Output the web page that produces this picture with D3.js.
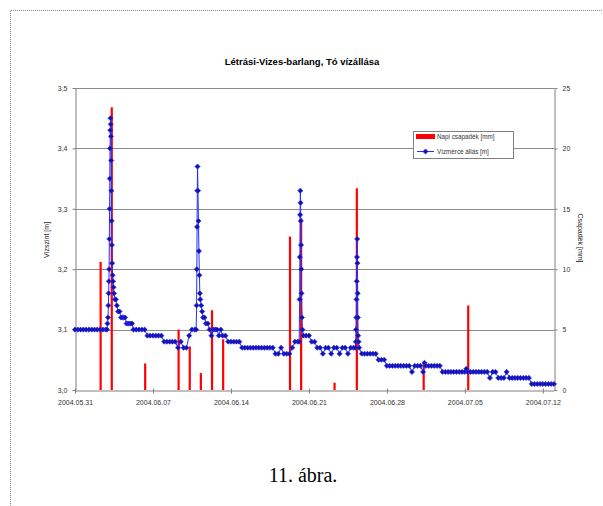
<!DOCTYPE html>
<html>
<head>
<meta charset="utf-8">
<script src="https://cdn.jsdelivr.net/npm/d3@7"></script>
<style>
  body { margin: 0; background: #fff; }
  svg { display: block; font-family: "Liberation Sans", Arial, sans-serif; }
</style>
</head>
<body>
<svg id="chart" width="603" height="506"></svg>
<script>
// Chart data
var chartTitle = "Létrási-Vizes-barlang, Tó vízállása";
var caption = "11. ábra.";
var leftTitle = "Vízszint [m]";
var rightTitle = "Csapadék [mm]";
var rainLabel = "Napi csapadék [mm]";
var levelLabel = "Vízmérce állás [m]";

// daily rain, measured at 07:00
var rainDates = ["2004-06-02", "2004-06-03", "2004-06-06", "2004-06-09", "2004-06-10", "2004-06-11",
                 "2004-06-12", "2004-06-13", "2004-06-19", "2004-06-20", "2004-06-23", "2004-06-25",
                 "2004-07-01", "2004-07-05"];
var rainMm = [10.6, 23.4, 2.2, 5.0, 3.6, 1.4, 6.6, 4.2, 12.7, 14.2, 0.6, 16.7, 2.3, 7.0];

// water level readings: [hours since 2004-05-31 00:00, level in m]
var levelStart = "2004-05-31T00:00";
var levelReadings = [
  [0,3.10],[6,3.10],[12,3.10],[18,3.10],[24,3.10],[30,3.10],[36,3.10],[42,3.10],[48,3.10],[54,3.10],[60,3.10],[66,3.10],
  [69,3.10],[70,3.11],[71,3.12],[72,3.14],[72.5,3.16],[73,3.18],[73.5,3.20],[74,3.25],[74.5,3.30],[75,3.35],[75.5,3.40],
  [76,3.43],[76.5,3.45],[77,3.44],[77.5,3.42],[78,3.38],[78.5,3.33],[79,3.28],[79.5,3.24],[80,3.21],[81,3.19],[82,3.18],
  [83,3.17],[84,3.16],[86,3.15],[88,3.15],[90,3.14],[93,3.13],[96,3.13],
  [99,3.12],[102,3.12],[105,3.12],[108,3.12],[111,3.11],[114,3.11],[117,3.11],[120,3.11],[123,3.11],
  [126,3.10],[132,3.10],[138,3.10],[144,3.10],[150,3.10],[156,3.09],[162,3.09],[168,3.09],[174,3.09],[180,3.09],
  [186,3.09],[192,3.08],[198,3.08],[204,3.08],[210,3.08],[216,3.08],[222,3.07],[228,3.08],[234,3.07],[240,3.07],
  [246,3.09],[252,3.10],[258,3.10],
  [261,3.10],[262,3.14],[262.5,3.20],[263,3.27],[263.5,3.33],[264,3.37],[265,3.33],[266,3.28],[267,3.23],[268,3.19],
  [269,3.16],[270,3.15],[272,3.14],[274,3.13],[276,3.12],[279,3.12],[282,3.11],[286,3.11],[290,3.10],[294,3.09],
  [298,3.10],[302,3.10],[306,3.10],[310,3.09],[314,3.10],[318,3.09],[324,3.09],[330,3.08],[336,3.08],[342,3.08],
  [348,3.08],[354,3.08],[360,3.07],[366,3.07],[372,3.07],[378,3.07],[384,3.07],[390,3.07],[396,3.07],[402,3.07],
  [408,3.07],[414,3.07],[420,3.07],[426,3.07],[432,3.06],[438,3.06],[444,3.07],[450,3.06],[456,3.06],[462,3.06],
  [468,3.07],[474,3.08],[480,3.08],
  [483,3.08],[484,3.15],[484.5,3.22],[485,3.29],[485.5,3.33],[486,3.31],[486.5,3.28],[487,3.24],[487.5,3.20],
  [488,3.16],[489,3.12],[490,3.10],[492,3.09],[498,3.09],[504,3.09],[510,3.08],[516,3.08],[522,3.07],[528,3.07],
  [534,3.06],[540,3.07],[546,3.07],[552,3.06],[558,3.07],[564,3.07],[570,3.06],[576,3.07],[582,3.07],[588,3.06],
  [594,3.07],[600,3.07],
  [604,3.07],[605,3.08],[605.5,3.10],[606,3.12],[606.5,3.15],[607,3.18],[607.5,3.22],[608,3.25],[608.5,3.21],
  [609,3.16],[609.5,3.12],[610,3.09],[611,3.08],[612,3.07],[618,3.06],[624,3.06],[630,3.06],[636,3.06],[642,3.06],
  [648,3.06],[654,3.05],[660,3.05],[666,3.05],[672,3.04],[678,3.04],[684,3.04],[690,3.04],[696,3.04],[702,3.04],
  [708,3.04],[714,3.04],[720,3.04],[726,3.03],[732,3.04],[738,3.04],[744,3.04],[750,3.03],[753,3.045],[756,3.04],
  [762,3.04],[768,3.04],[774,3.04],[780,3.04],[786,3.04],[792,3.03],[798,3.03],[804,3.03],[810,3.03],[816,3.03],
  [822,3.03],[828,3.03],[834,3.03],[840,3.03],[843,3.035],[846,3.03],[852,3.03],[858,3.03],[864,3.03],[870,3.03],
  [876,3.03],[882,3.03],[888,3.03],[894,3.02],[900,3.03],[906,3.03],[912,3.02],[918,3.02],[924,3.02],[930,3.03],
  [936,3.02],[942,3.02],[948,3.02],[954,3.02],[960,3.02],[966,3.02],[972,3.02],[978,3.02],[984,3.01],[990,3.01],
  [996,3.01],[1002,3.01],[1008,3.01],[1014,3.01],[1020,3.01],[1026,3.01],[1032,3.01]
];

var xStart = "2004-05-31", xEnd = "2004-07-13";
var xTickDates = ["2004-05-31", "2004-06-07", "2004-06-14", "2004-06-21", "2004-06-28", "2004-07-05", "2004-07-12"];
var leftTicks = [3.0, 3.1, 3.2, 3.3, 3.4, 3.5];
var rightTicks = [0, 5, 10, 15, 20, 25];

// Layout
var plot = {left: 75, right: 554, top: 88, bottom: 390};
var parseDay = d3.timeParse("%Y-%m-%d");
var parseStamp = d3.timeParse("%Y-%m-%dT%H:%M");
var t0 = parseStamp(levelStart);

var svg = d3.select("#chart");
svg.append("rect").attr("width", 603).attr("height", 506).attr("fill", "#fff");

// dotted page frame
svg.append("path")
    .attr("d", "M10.5,506V10.5H603")
    .attr("fill", "none")
    .attr("stroke", "#8a8a8a")
    .attr("stroke-dasharray", "1,1");

var x = d3.scaleTime().domain([parseDay(xStart), parseDay(xEnd)]).range([plot.left, plot.right]);
var yL = d3.scaleLinear().domain([3.0, 3.5]).range([plot.bottom, plot.top]);
var yR = d3.scaleLinear().domain([0, 25]).range([plot.bottom, plot.top]);

var huLocale = d3.formatLocale({decimal: ",", thousands: " ", grouping: [3], currency: ["", ""]});
var fmtLeft = huLocale.format(".1f");

// grid lines
svg.append("g").selectAll("line")
    .data(leftTicks.slice(1))
    .enter().append("line")
    .attr("x1", plot.left).attr("x2", plot.right)
    .attr("y1", function (d) { return Math.round(yL(d)) + 0.5; })
    .attr("y2", function (d) { return Math.round(yL(d)) + 0.5; })
    .attr("stroke", "#8c8c8c");

// rain bars (drawn under the level line)
var hour7 = 7 * 3600 * 1000;
svg.append("g").selectAll("rect")
    .data(rainMm)
    .enter().append("rect")
    .attr("x", function (d, i) { return x(new Date(parseDay(rainDates[i]).getTime() + hour7)) - 1; })
    .attr("y", function (d) { return yR(d); })
    .attr("width", 2.2)
    .attr("height", function (d) { return plot.bottom - yR(d); })
    .attr("fill", "#ff0000");

// axes
function styleAxis(g) {
    g.selectAll("path.domain").attr("stroke", "#808080");
    g.selectAll(".tick line").attr("stroke", "#808080");
    g.selectAll(".tick text").attr("fill", "#333").style("font-size", "7px")
        .style("font-family", "'Liberation Sans', Arial, sans-serif");
}

svg.append("g")
    .attr("transform", "translate(" + (plot.left + 0.5) + ",0)")
    .call(d3.axisLeft(yL).tickValues(leftTicks).tickFormat(fmtLeft).tickSize(3).tickPadding(5).tickSizeOuter(0))
    .call(styleAxis);

svg.append("g")
    .attr("transform", "translate(" + (plot.right + 0.5) + ",0)")
    .call(d3.axisRight(yR).tickValues(rightTicks).tickFormat(d3.format("d")).tickSize(3).tickPadding(5).tickSizeOuter(0))
    .call(styleAxis);

var xAxis = svg.append("g")
    .attr("transform", "translate(0," + (plot.bottom + 0.5) + ")")
    .call(d3.axisBottom(x).tickValues(xTickDates.map(parseDay)).tickFormat(d3.timeFormat("%Y.%m.%d"))
        .tickSize(3).tickPadding(7).tickSizeOuter(0))
    .call(styleAxis);
xAxis.selectAll(".tick line").attr("y1", -2);

// water level line and markers
var levelPts = levelReadings.map(function (r) {
    return {t: new Date(t0.getTime() + r[0] * 3600 * 1000), v: r[1]};
});

var line = d3.line()
    .x(function (d) { return x(d.t); })
    .y(function (d) { return yL(d.v); });

svg.append("path")
    .datum(levelPts)
    .attr("d", line)
    .attr("fill", "none")
    .attr("stroke", "#2030ff")
    .attr("stroke-width", 1);

var marker = d3.symbol().type(d3.symbolSquare).size(13);
svg.append("g").selectAll("path")
    .data(levelPts)
    .enter().append("path")
    .attr("d", marker)
    .attr("transform", function (d) { return "translate(" + x(d.t) + "," + yL(d.v) + ")rotate(45)"; })
    .attr("fill", "#12129c")
    .attr("stroke", "#2a2aff")
    .attr("stroke-width", 0.7);

// titles
svg.append("text")
    .attr("x", 302).attr("y", 65)
    .attr("text-anchor", "middle")
    .style("font-size", "9.5px").style("font-weight", "bold")
    .text(chartTitle);

svg.append("text")
    .attr("transform", "translate(49,240)rotate(-90)")
    .attr("text-anchor", "middle")
    .style("font-size", "7px")
    .attr("fill", "#222")
    .text(leftTitle);

svg.append("text")
    .attr("transform", "translate(578,238)rotate(90)")
    .attr("text-anchor", "middle")
    .style("font-size", "7px")
    .attr("fill", "#222")
    .text(rightTitle);

// legend
var lg = svg.append("g").attr("transform", "translate(413,131)");
lg.append("rect").attr("x", 0.5).attr("y", 0.5).attr("width", 100).attr("height", 27)
    .attr("fill", "#fff").attr("stroke", "#808080");
lg.append("rect").attr("x", 3).attr("y", 3).attr("width", 19).attr("height", 5).attr("fill", "#ff0000");
lg.append("text").attr("x", 24).attr("y", 8).style("font-size", "6.3px").attr("fill", "#333").text(rainLabel);
lg.append("line").attr("x1", 4).attr("x2", 21).attr("y1", 20.5).attr("y2", 20.5)
    .attr("stroke", "#2030ff");
lg.append("path").attr("d", marker).attr("transform", "translate(12.5,20.5)rotate(45)")
    .attr("fill", "#12129c").attr("stroke", "#2a2aff").attr("stroke-width", 0.7);
lg.append("text").attr("x", 24).attr("y", 23).style("font-size", "6.3px").attr("fill", "#333").text(levelLabel);

// caption
svg.append("text")
    .attr("x", 303).attr("y", 482)
    .attr("text-anchor", "middle")
    .style("font-family", "'Liberation Serif', 'Times New Roman', serif")
    .style("font-size", "20px")
    .text(caption);
</script>
</body>
</html>
